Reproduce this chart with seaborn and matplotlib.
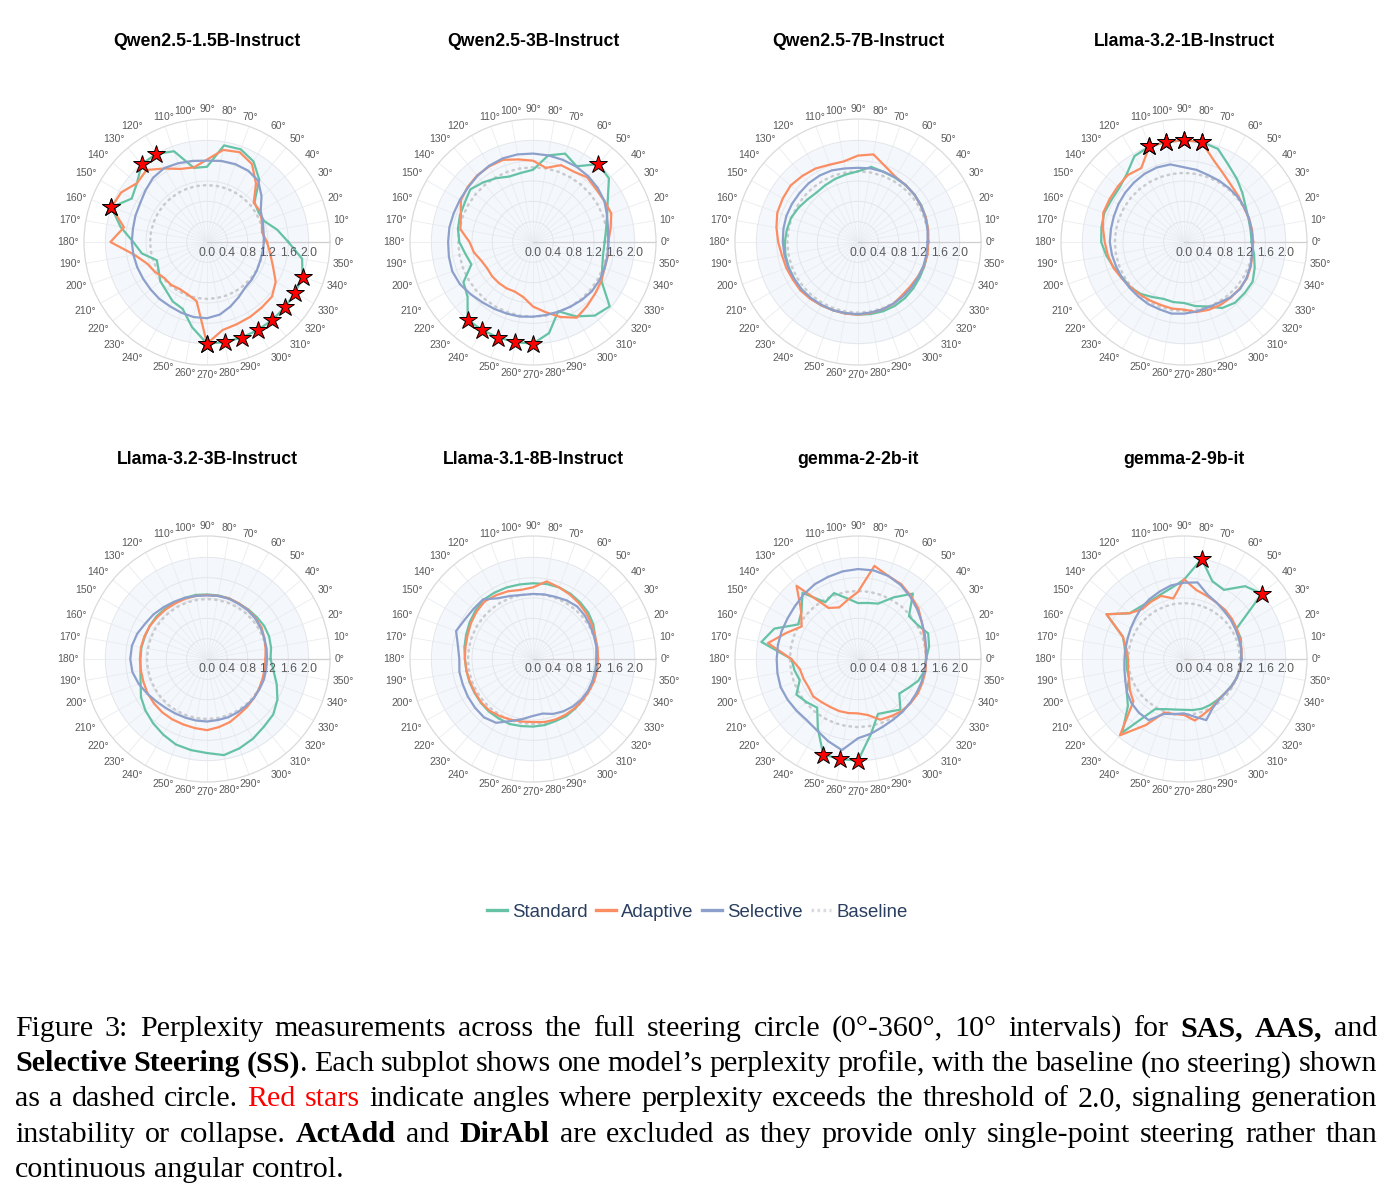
import numpy as np
import pandas as pd
import matplotlib
matplotlib.use("Agg")
import matplotlib.pyplot as plt
import matplotlib.transforms as mtransforms
from matplotlib.lines import Line2D
import seaborn as sns

# ---------------- data ----------------
ANGLES = list(range(0, 360, 10))
MODELS = ["Qwen2.5-1.5B-Instruct", "Qwen2.5-3B-Instruct", "Qwen2.5-7B-Instruct", "Llama-3.2-1B-Instruct",
          "Llama-3.2-3B-Instruct", "Llama-3.1-8B-Instruct", "gemma-2-2b-it", "gemma-2-9b-it"]
METHODS = ["Standard", "Adaptive", "Selective"]
THRESHOLD = 2.0
R_TICKS = [0.0, 0.4, 0.8, 1.2, 1.6, 2.0]
BASELINE = [1.12, 1.47, 1.39, 1.36, 1.18, 1.28, 1.34, 1.10]

QWEN15_STD = [1.6, 1.4, 1.2, 1.17, 1.22, 1.6, 1.83, 1.94, 1.93, 1.48, 1.48, 1.9, 2.0, 2.0, 1.8, 1.71, 2.0, 1.73,
              1.45, 1.3, 1.05, 1.1, 1.2, 1.25, 1.35, 1.4, 1.7, 2.0, 2.0, 2.0, 2.0, 2.0, 2.0, 2.0, 2.0, 1.9]
QWEN15_ADA = [1.18, 1.1, 1.15, 1.21, 1.2, 1.5, 1.77, 1.88, 1.84, 1.62, 1.49, 1.53, 1.67, 1.85, 1.8, 1.95, 2.0, 1.66,
              1.9, 1.45, 1.25, 1.18, 1.1, 1.1, 1.07, 1.1, 1.18, 2.0, 1.76, 1.72, 1.7, 1.68, 1.67, 1.56, 1.38, 1.26]
QWEN15_SEL = [1.12, 1.13, 1.17, 1.22, 1.4, 1.57, 1.62, 1.63, 1.62, 1.6, 1.62, 1.65, 1.68, 1.65, 1.58, 1.52, 1.5, 1.48,
              1.48, 1.47, 1.46, 1.45, 1.45, 1.46, 1.46, 1.48, 1.5, 1.5, 1.45, 1.35, 1.25, 1.17, 1.15, 1.13, 1.11, 1.11]

QWEN3_STD = [1.41, 1.46, 1.55, 1.7, 1.95, 2.0, 1.72, 1.85, 1.73, 1.42, 1.38, 1.37, 1.45, 1.53, 1.61, 1.55, 1.53, 1.5,
             1.45, 1.35, 1.29, 1.58, 1.68, 2.0, 2.0, 2.0, 2.0, 2.0, 1.82, 1.45, 1.69, 1.89, 1.97, 1.56, 1.45, 1.4]
QWEN3_ADA = [1.48, 1.55, 1.64, 1.62, 1.62, 1.66, 1.6, 1.61, 1.48, 1.6, 1.65, 1.72, 1.72, 1.71, 1.68, 1.64, 1.51, 1.45,
             1.25, 1.18, 1.08, 1.04, 1.05, 1.05, 1.05, 1.04, 1.1, 1.27, 1.4, 1.57, 1.72, 1.65, 1.59, 1.55, 1.5, 1.5]
QWEN3_SEL = [1.48, 1.5, 1.55, 1.62, 1.66, 1.69, 1.71, 1.72, 1.73, 1.74, 1.75, 1.75, 1.73, 1.7, 1.67, 1.66, 1.66, 1.67,
             1.67, 1.68, 1.69, 1.66, 1.6, 1.55, 1.52, 1.5, 1.49, 1.47, 1.46, 1.46, 1.47, 1.49, 1.51, 1.51, 1.5, 1.49]

QWEN7_STD = [1.38, 1.4, 1.42, 1.44, 1.45, 1.46, 1.46, 1.47, 1.5, 1.39, 1.35, 1.32, 1.29, 1.27, 1.3, 1.35, 1.4, 1.42,
             1.44, 1.45, 1.45, 1.45, 1.45, 1.45, 1.44, 1.43, 1.43, 1.43, 1.44, 1.45, 1.45, 1.44, 1.42, 1.4, 1.39, 1.38]
QWEN7_ADA = [1.38, 1.4, 1.42, 1.43, 1.45, 1.46, 1.48, 1.58, 1.75, 1.7, 1.61, 1.62, 1.67, 1.7, 1.73, 1.71, 1.69, 1.63,
             1.57, 1.52, 1.5, 1.48, 1.48, 1.46, 1.44, 1.43, 1.43, 1.43, 1.42, 1.41, 1.4, 1.36, 1.35, 1.36, 1.38, 1.39]
QWEN7_SEL = [1.37, 1.39, 1.41, 1.43, 1.45, 1.46, 1.47, 1.47, 1.47, 1.46, 1.47, 1.5, 1.51, 1.51, 1.5, 1.5, 1.5, 1.49,
             1.48, 1.47, 1.46, 1.45, 1.45, 1.44, 1.43, 1.43, 1.42, 1.42, 1.41, 1.41, 1.4, 1.39, 1.38, 1.37, 1.37, 1.37]

LLAMA1_STD = [1.33, 1.33, 1.35, 1.4, 1.5, 1.62, 1.75, 1.95, 2.0, 2.0, 2.0, 2.0, 1.95, 1.75, 1.66, 1.65, 1.67, 1.65,
              1.63, 1.55, 1.47, 1.4, 1.38, 1.33, 1.25, 1.19, 1.2, 1.2, 1.28, 1.35, 1.5, 1.56, 1.56, 1.56, 1.48, 1.4]
LLAMA1_ADA = [1.36, 1.36, 1.36, 1.36, 1.4, 1.45, 1.55, 1.71, 2.0, 2.0, 2.0, 2.0, 1.68, 1.72, 1.7, 1.69, 1.69, 1.62,
              1.56, 1.52, 1.48, 1.42, 1.38, 1.35, 1.33, 1.32, 1.33, 1.33, 1.4, 1.42, 1.43, 1.43, 1.43, 1.43, 1.4, 1.37]
LLAMA1_SEL = [1.35, 1.35, 1.36, 1.37, 1.38, 1.38, 1.39, 1.4, 1.44, 1.47, 1.55, 1.56, 1.55, 1.53, 1.51, 1.49, 1.47, 1.46,
              1.46, 1.44, 1.42, 1.41, 1.4, 1.4, 1.41, 1.41, 1.43, 1.41, 1.39, 1.37, 1.38, 1.42, 1.44, 1.42, 1.39, 1.36]

LLAMA3_STD = [1.25, 1.28, 1.3, 1.3, 1.28, 1.27, 1.26, 1.27, 1.27, 1.27, 1.28, 1.28, 1.28, 1.29, 1.3, 1.3, 1.3, 1.31,
              1.31, 1.33, 1.39, 1.5, 1.58, 1.65, 1.72, 1.79, 1.82, 1.85, 1.92, 1.87, 1.81, 1.74, 1.7, 1.6, 1.46, 1.33]
LLAMA3_ADA = [1.15, 1.17, 1.2, 1.24, 1.25, 1.26, 1.26, 1.27, 1.26, 1.26, 1.26, 1.26, 1.26, 1.27, 1.28, 1.3, 1.31, 1.32,
              1.32, 1.32, 1.33, 1.35, 1.36, 1.37, 1.37, 1.37, 1.38, 1.4, 1.36, 1.32, 1.26, 1.23, 1.2, 1.18, 1.16, 1.15]
LLAMA3_SEL = [1.18, 1.19, 1.2, 1.22, 1.24, 1.25, 1.25, 1.26, 1.26, 1.25, 1.26, 1.28, 1.3, 1.33, 1.37, 1.4, 1.46, 1.5,
              1.51, 1.49, 1.43, 1.36, 1.3, 1.26, 1.24, 1.23, 1.23, 1.23, 1.22, 1.22, 1.21, 1.2, 1.2, 1.19, 1.19, 1.18]

LLAMA8_STD = [1.25, 1.27, 1.3, 1.37, 1.42, 1.45, 1.48, 1.5, 1.5, 1.49, 1.49, 1.5, 1.51, 1.52, 1.48, 1.44, 1.4, 1.37,
              1.34, 1.33, 1.33, 1.33, 1.34, 1.35, 1.35, 1.36, 1.34, 1.33, 1.32, 1.3, 1.3, 1.28, 1.27, 1.26, 1.25, 1.25]
LLAMA8_ADA = [1.28, 1.29, 1.3, 1.34, 1.38, 1.42, 1.46, 1.5, 1.55, 1.41, 1.38, 1.42, 1.45, 1.48, 1.45, 1.41, 1.37, 1.35,
              1.34, 1.33, 1.32, 1.32, 1.33, 1.33, 1.3, 1.27, 1.25, 1.24, 1.26, 1.27, 1.27, 1.27, 1.27, 1.27, 1.28, 1.28]
LLAMA8_SEL = [1.25, 1.27, 1.28, 1.3, 1.33, 1.35, 1.33, 1.3, 1.29, 1.28, 1.28, 1.32, 1.38, 1.53, 1.53, 1.55, 1.61, 1.5,
              1.45, 1.47, 1.47, 1.48, 1.49, 1.5, 1.45, 1.3, 1.2, 1.12, 1.09, 1.15, 1.19, 1.22, 1.24, 1.25, 1.25, 1.25]

GEMMA2_STD = [1.34, 1.42, 1.47, 1.35, 1.31, 1.68, 1.4, 1.16, 1.12, 1.1, 1.21, 1.38, 1.29, 1.7, 1.45, 1.36, 1.75, 1.93,
              1.31, 1.27, 1.22, 1.4, 1.32, 1.25, 1.58, 2.0, 2.0, 2.0, 1.49, 1.15, 1.2, 1.3, 1.06, 1.14, 1.26, 1.33]
GEMMA2_ADA = [1.34, 1.35, 1.38, 1.45, 1.55, 1.62, 1.7, 1.74, 1.86, 1.32, 1.18, 1.08, 1.16, 1.88, 1.46, 1.28, 1.5, 1.8,
              1.31, 1.16, 1.14, 1.12, 1.15, 1.11, 1.09, 1.09, 1.08, 1.07, 1.12, 1.27, 1.3, 1.34, 1.35, 1.36, 1.35, 1.35]
GEMMA2_SEL = [1.34, 1.36, 1.4, 1.45, 1.52, 1.6, 1.68, 1.74, 1.77, 1.77, 1.75, 1.72, 1.7, 1.66, 1.62, 1.6, 1.6, 1.6,
              1.6, 1.61, 1.62, 1.6, 1.58, 1.57, 1.62, 1.72, 1.82, 1.56, 1.49, 1.42, 1.38, 1.36, 1.34, 1.33, 1.33, 1.33]

GEMMA9_STD = [1.13, 1.14, 1.19, 1.19, 2.0, 1.87, 1.57, 1.63, 2.0, 1.56, 1.42, 1.35, 1.32, 1.34, 1.4, 1.76, 1.28, 1.18,
              1.13, 1.14, 1.15, 1.3, 1.44, 1.89, 1.14, 1.05, 1.01, 1.0, 1.02, 1.04, 1.04, 1.04, 1.05, 1.07, 1.1, 1.12]
GEMMA9_ADA = [1.13, 1.15, 1.17, 1.2, 1.23, 1.26, 1.28, 1.32, 1.38, 1.57, 1.21, 1.32, 1.3, 1.28, 1.4, 1.76, 1.28, 1.15,
              1.1, 1.12, 1.15, 1.23, 1.3, 1.96, 1.5, 1.12, 1.1, 1.1, 1.23, 1.15, 1.1, 1.05, 1.05, 1.08, 1.1, 1.12]
GEMMA9_SEL = [1.13, 1.14, 1.15, 1.17, 1.2, 1.23, 1.28, 1.35, 1.53, 1.5, 1.47, 1.41, 1.36, 1.31, 1.25, 1.21, 1.18, 1.17,
              1.17, 1.19, 1.23, 1.3, 1.35, 1.38, 1.39, 1.15, 1.1, 1.07, 1.15, 1.28, 1.12, 1.06, 1.05, 1.08, 1.1, 1.12]

SERIES = [
    (QWEN15_STD, QWEN15_ADA, QWEN15_SEL), (QWEN3_STD, QWEN3_ADA, QWEN3_SEL),
    (QWEN7_STD, QWEN7_ADA, QWEN7_SEL), (LLAMA1_STD, LLAMA1_ADA, LLAMA1_SEL),
    (LLAMA3_STD, LLAMA3_ADA, LLAMA3_SEL), (LLAMA8_STD, LLAMA8_ADA, LLAMA8_SEL),
    (GEMMA2_STD, GEMMA2_ADA, GEMMA2_SEL), (GEMMA9_STD, GEMMA9_ADA, GEMMA9_SEL),
]

CAPTION = [
    [("Figure 3: Perplexity measurements across the full steering circle (0°-360°, 10° intervals) for ", "n"),
     ("SAS, AAS,", "b"), (" and", "n")],
    [("Selective Steering (SS)", "b"),
     (". Each subplot shows one model’s perplexity profile, with the baseline (no steering) shown", "n")],
    [("as a dashed circle. ", "n"), ("Red stars", "r"),
     (" indicate angles where perplexity exceeds the threshold of 2.0, signaling generation", "n")],
    [("instability or collapse. ", "n"), ("ActAdd", "b"), (" and ", "n"), ("DirAbl", "b"),
     (" are excluded as they provide only single-point steering rather than", "n")],
    [("continuous angular control.", "n")],
]

# ---------------- style ----------------
W, H = 1392, 1202
plt.rcParams["font.family"] = ["Liberation Sans", "DejaVu Sans"]
PALETTE = dict(zip(METHODS, sns.color_palette("Set2", 3)))
TICK_COL = "#5a5a5a"
R_MAX = 2.42
R_OUT = 123
CX = [207, 533, 858, 1184]
CY = [242, 659]

fig = plt.figure(figsize=(W / 100, H / 100), dpi=100)

theta_closed = np.deg2rad(ANGLES + [360])
for i, (model, series) in enumerate(zip(MODELS, SERIES)):
    cx, cy = CX[i % 4], CY[i // 4]
    ax = fig.add_axes([(cx - R_OUT) / W, 1 - (cy + R_OUT) / H, 2 * R_OUT / W, 2 * R_OUT / H], projection="polar")
    ax.set_theta_zero_location("E")
    ax.set_theta_direction(1)
    ax.set_ylim(0, R_MAX)
    ax.set_axisbelow(True)
    ax.set_facecolor("white")

    # threshold-zone shading
    full = np.linspace(0, 2 * np.pi, 361)
    ax.fill_between(full, 0, THRESHOLD, color="#f4f7fc", lw=0, zorder=0.1)

    # grids
    ax.set_thetagrids(ANGLES, labels=[f"{a}°" for a in ANGLES])
    ax.set_rgrids(R_TICKS[1:], labels=[""] * (len(R_TICKS) - 1))
    ax.xaxis.grid(True, color="#e9ecf0", lw=0.6)
    ax.yaxis.grid(True, color="#e3e6ea", lw=0.7)
    ax.spines["polar"].set_edgecolor("#dadada")
    ax.spines["polar"].set_linewidth(0.9)
    ax.tick_params(axis="x", pad=-3.5, labelsize=7.5, labelcolor=TICK_COL, length=0)
    ax.tick_params(axis="y", length=0)
    for lab, a in zip(ax.get_xticklabels(), ANGLES):
        c, s = np.cos(np.deg2rad(a)), np.sin(np.deg2rad(a))
        lab.set_ha("center" if abs(c) < 0.35 else ("left" if c > 0 else "right"))
        lab.set_va("center" if abs(s) < 0.35 else ("bottom" if s > 0 else "top"))
    ax.axvline(0, color="#cfcfcf", lw=0.9, zorder=0.6)

    # radial tick labels, just below the 0° axis
    off = mtransforms.ScaledTranslation(0, -0.105, fig.dpi_scale_trans)
    for rv in R_TICKS:
        ax.text(0, rv, f"{rv:.1f}", transform=ax.transData + off, ha="center", va="center",
                fontsize=8.8, color=TICK_COL, zorder=6)

    # baseline
    ax.plot(theta_closed, [BASELINE[i]] * len(theta_closed), color="#c9cbcf", lw=1.8,
            ls=(0, (0.6, 2.0)), dash_capstyle="round", zorder=2)

    # series
    rows = []
    for m, vals in zip(METHODS, series):
        v = np.minimum(np.array(vals + [vals[0]], dtype=float), THRESHOLD)
        for t, r in zip(theta_closed, v):
            rows.append({"method": m, "theta": t, "r": r})
    df = pd.DataFrame(rows)
    sns.lineplot(data=df, x="theta", y="r", hue="method", hue_order=METHODS, palette=PALETTE,
                 sort=False, estimator=None, lw=1.6, legend=False, ax=ax, zorder=3)
    ax.set_xlabel("")
    ax.set_ylabel("")

    # red stars where perplexity exceeds the threshold
    for vals in series:
        v = np.array(vals, dtype=float)
        mask = v >= THRESHOLD
        if mask.any():
            ax.plot(np.deg2rad(np.array(ANGLES))[mask], np.minimum(v[mask], THRESHOLD), ls="none",
                    marker="*", ms=13.5, mfc="#ff0000", mec="black", mew=0.7, zorder=5, clip_on=False)

    ax.set_title(model, fontsize=12.7, fontweight="bold", y=1 + 77 / (2 * R_OUT), va="center", pad=0)

# legend
handles = [Line2D([], [], color=PALETTE[m], lw=2.4) for m in METHODS]
handles.append(Line2D([], [], color="#d9dbde", lw=2.4, ls=(0, (0.8, 1.0))))
fig.legend(handles, METHODS + ["Baseline"], loc="center", bbox_to_anchor=(697 / W, 1 - 912 / H), ncol=4,
           frameon=False, prop={"family": "Liberation Sans", "size": 13.4}, labelcolor="#2a3f5f",
           handlelength=1.1, handletextpad=0.25, columnspacing=0.45, borderaxespad=0)

# caption (justified)
fig.canvas.draw()
renderer = fig.canvas.get_renderer()
CAP_SIZE = 21.6
LEFT, RIGHT = 15, 1377
BASES = [1036, 1071.25, 1106.5, 1141.75, 1177]
STYLE = {"n": ("normal", "black"), "b": ("bold", "black"), "r": ("normal", "#ff0000")}


def words_of(line):
    words, cur = [], []
    for txt, st in line:
        parts = txt.split(" ")
        for k, p in enumerate(parts):
            if k > 0:
                if cur:
                    words.append(cur)
                cur = []
            if p:
                cur.append((p, st))
    if cur:
        words.append(cur)
    return words


space_t = fig.text(0, 0, "a a", family="Liberation Serif", fontsize=CAP_SIZE)
aa_t = fig.text(0, 0, "aa", family="Liberation Serif", fontsize=CAP_SIZE)
SPACE = space_t.get_window_extent(renderer).width - aa_t.get_window_extent(renderer).width
space_t.remove()
aa_t.remove()

for li, (line, yb) in enumerate(zip(CAPTION, BASES)):
    words = words_of(line)
    placed = []
    total = 0
    for w in words:
        pieces = []
        ww = 0
        for txt, st in w:
            wt, col = STYLE[st]
            t = fig.text(0, 1 - yb / H, txt, family="Liberation Serif", fontsize=CAP_SIZE, fontweight=wt,
                         color=col, ha="left", va="baseline")
            wdt = t.get_window_extent(renderer).width
            pieces.append((t, wdt))
            ww += wdt
        placed.append(pieces)
        total += ww
    gaps = len(words) - 1
    last = li == len(CAPTION) - 1
    gap = SPACE if (last or gaps == 0) else (RIGHT - LEFT - total) / gaps
    x = LEFT
    for pieces in placed:
        for t, wdt in pieces:
            t.set_x(x / W)
            x += wdt
        x += gap

fig.savefig("out.png", dpi=100)
